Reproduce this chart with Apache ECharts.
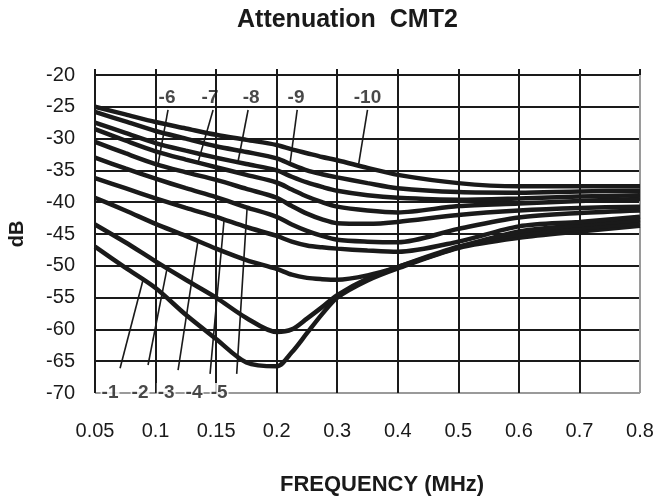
<!DOCTYPE html>
<html>
<head>
<meta charset="utf-8">
<script src="https://cdn.jsdelivr.net/npm/echarts@6/dist/echarts.min.js"></script>
<style>
html,body{margin:0;padding:0;background:#fff;}
#chart{width:657px;height:503px;}
</style>
</head>
<body>
<div id="chart"></div>
<script>
// ---- data ----
const TICK_LABELS = ['0.05', '0.1', '0.15', '0.2', '0.3', '0.4', '0.5', '0.6', '0.7', '0.8'];
const FREQ = [0.05, 0.075, 0.1, 0.125, 0.15, 0.175, 0.2, 0.225, 0.25, 0.275, 0.3, 0.35, 0.4, 0.5, 0.6, 0.7, 0.8];
const C1  = [-47, -50.3, -53.5, -57.7, -61.5, -65.2, -65.8, -63.6, -60.6, -57.6, -55, -52.3, -50.4, -47.2, -45.6, -44.6, -43.7];
const C2  = [-43.5, -46.3, -49.3, -52.2, -55, -58.2, -60.4, -60, -58.3, -56.5, -54.6, -52, -50.2, -47, -45.1, -44.1, -43.3];
const C3  = [-39.3, -41.3, -43.4, -45.3, -47.3, -49.1, -50.5, -51.4, -51.9, -52.1, -52.2, -51.5, -50.2, -47.1, -44.6, -43.6, -42.8];
const C4  = [-36.2, -37.8, -39.4, -40.9, -42.3, -43.9, -45.3, -46.2, -46.8, -47.1, -47.3, -47.6, -47.8, -46.2, -43.8, -43.1, -42.3];
const C5  = [-33, -34.7, -36.3, -37.8, -39.2, -40.8, -42.3, -43.5, -44.5, -45.3, -45.9, -46.2, -46.3, -44.2, -42.4, -41.7, -41.3];
const C6  = [-30.5, -32.3, -34, -35.3, -36.5, -37.9, -39.3, -40.6, -41.8, -42.7, -43.3, -43.4, -43.1, -42, -41.3, -40.9, -40.7];
const C7  = [-28.5, -30.3, -32, -33.3, -34.5, -35.7, -36.9, -38, -39.1, -40, -40.7, -41.3, -41.6, -40.6, -40.2, -39.8, -39.5];
const C8  = [-27.5, -29.1, -30.7, -31.9, -33, -34, -35, -36, -36.9, -37.6, -38.2, -38.9, -39.3, -39.6, -39.4, -39.1, -38.9];
const C9  = [-25.8, -27.3, -28.8, -30, -31.2, -32.1, -33.1, -34.1, -35, -35.6, -36.1, -37, -37.8, -38.4, -38.5, -38.3, -38.2];
const C10 = [-25, -26.2, -27.4, -28.4, -29.4, -30.2, -31, -31.7, -32.3, -32.9, -33.4, -34.6, -35.7, -37, -37.5, -37.5, -37.5];
const CURVES = [C1, C2, C3, C4, C5, C6, C7, C8, C9, C10];
const CURVE_NAMES = ['-1', '-2', '-3', '-4', '-5', '-6', '-7', '-8', '-9', '-10'];
// callout labels and leader lines
const LABEL_FREQ = [0.0624, 0.0872, 0.1087, 0.1318, 0.1525, 0.1095, 0.145, 0.179, 0.232, 0.35];
const LABEL_DB = [-70, -70, -70, -70, -70, -23.6, -23.6, -23.6, -23.6, -23.6];
const LEADER_START_FREQ = [0.0707, 0.0938, 0.1186, 0.145, 0.167, 0.1103, 0.1475, 0.1764, 0.2339, 0.35];
const LEADER_START_DB = [-66.1, -65.6, -66.4, -67, -67, -25.5, -25.5, -25.5, -25.5, -25.5];
const LEADER_END_FREQ = [0.0897, 0.1095, 0.135, 0.1566, 0.1756, 0.102, 0.135, 0.168, 0.222, 0.335];

// piecewise frequency scale: ticks are evenly spaced on the drawing
const TICK_FREQ = TICK_LABELS.map(Number);
function pos(f) {
  for (let i = 0; i < TICK_FREQ.length - 1; i++) {
    if (f <= TICK_FREQ[i + 1] || i === TICK_FREQ.length - 2) {
      return i + (f - TICK_FREQ[i]) / (TICK_FREQ[i + 1] - TICK_FREQ[i]);
    }
  }
}
function curveAt(vals, f) {
  for (let i = 0; i < FREQ.length - 1; i++) {
    if (f <= FREQ[i + 1]) {
      const t = (f - FREQ[i]) / (FREQ[i + 1] - FREQ[i]);
      return vals[i] + t * (vals[i + 1] - vals[i]);
    }
  }
  return vals[vals.length - 1];
}

const INK = '#1a1a1a';
const FONT = 'Liberation Sans, Arial, Helvetica, sans-serif';
const series = [];
CURVES.forEach((vals, k) => {
  series.push({
    type: 'line', name: CURVE_NAMES[k], xAxisIndex: 0,
    data: FREQ.map((f, i) => [pos(f), vals[i]]),
    showSymbol: false, symbol: 'none', smooth: 0.3,
    lineStyle: { color: INK, width: 4.5 }, z: 3, silent: true
  });
});
CURVE_NAMES.forEach((n, k) => {
  series.push({
    type: 'line', xAxisIndex: 0, symbol: 'none', silent: true, z: 4,
    data: [[pos(LEADER_START_FREQ[k]), LEADER_START_DB[k]],
           [pos(LEADER_END_FREQ[k]), curveAt(CURVES[k], LEADER_END_FREQ[k])]],
    lineStyle: { color: INK, width: 1.6 }
  });
});
series.push({
  type: 'scatter', xAxisIndex: 0, symbolSize: 1, clip: false, silent: true, z: 6,
  itemStyle: { color: 'rgba(0,0,0,0)' },
  data: CURVE_NAMES.map((n, k) => ({
    name: n, value: [pos(LABEL_FREQ[k]), LABEL_DB[k]],
    label: k < 5 ? { backgroundColor: '#fff', padding: [1, 1, 0, 1] } : {}
  })),
  label: { show: true, position: 'inside', formatter: '{b}', color: INK,
           fontWeight: 'bold', fontSize: 19, fontFamily: FONT }
});

const chart = echarts.init(document.getElementById('chart'), null, { renderer: 'canvas' });
const xLineColors = TICK_LABELS.map((t, i) => i === TICK_LABELS.length - 1 ? '#9a9a9a' : INK);
chart.setOption({
  animation: false,
  backgroundColor: '#fff',
  title: {
    text: 'Attenuation  CMT2', left: 232, top: 3,
    textStyle: { fontSize: 25, fontWeight: 'bold', fontFamily: FONT, color: INK }
  },
  grid: { left: 95, right: 17, top: 75, bottom: 110, containLabel: false, outerBoundsMode: 'none' },
  xAxis: [{
    type: 'value', min: 0, max: TICK_LABELS.length - 1, interval: 1,
    axisLine: { show: false }, axisTick: { show: false },
    axisLabel: { formatter: v => TICK_LABELS[Math.round(v)], fontSize: 20, color: INK,
                 fontFamily: FONT, margin: 28 },
    splitLine: { show: true, lineStyle: { color: xLineColors, width: 2 } }
  }, {
    type: 'value', position: 'top', min: 0, max: TICK_LABELS.length - 1, interval: 1,
    axisLine: { show: false }, axisLabel: { show: false }, splitLine: { show: false },
    axisTick: { show: true, length: 6, lineStyle: { color: INK, width: 2 } }
  }],
  yAxis: {
    type: 'value', min: -70, max: -20, interval: 5,
    name: 'dB', nameLocation: 'middle', nameGap: 68, nameRotate: 90,
    nameTextStyle: { fontSize: 20, fontWeight: 'bold', fontFamily: FONT, color: INK },
    axisLine: { show: false }, axisTick: { show: false },
    axisLabel: { fontSize: 20, color: INK, fontFamily: FONT, margin: 20 },
    splitLine: { show: true, lineStyle: { color: ['#9a9a9a', INK, INK, INK, INK, INK, INK, INK, INK, INK, INK], width: 2 } }
  },
  graphic: [{
    type: 'text', left: 280, top: 474, z: 10,
    style: { text: 'FREQUENCY (MHz)', font: 'bold 22px ' + FONT, fill: INK }
  }],
  series: series
});
</script>
</body>
</html>
